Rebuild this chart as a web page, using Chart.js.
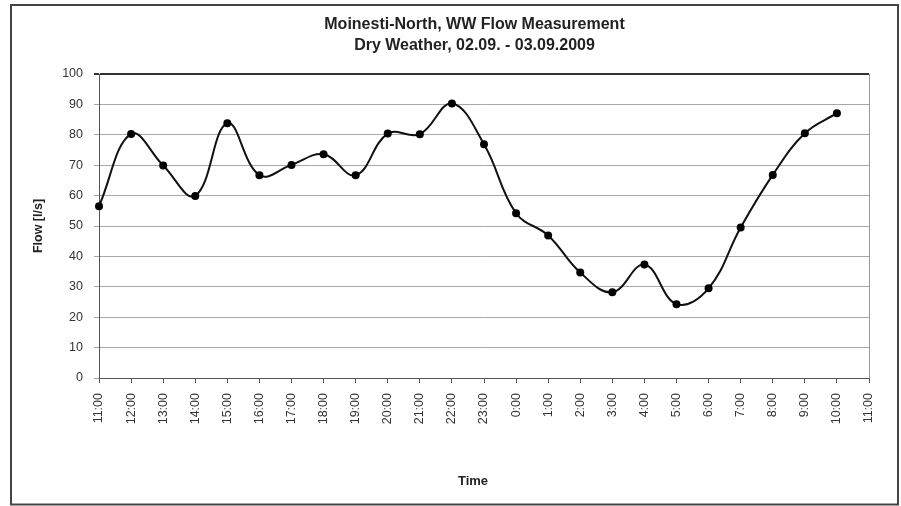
<!DOCTYPE html>
<html>
<head>
<meta charset="utf-8">
<script src="https://cdn.jsdelivr.net/npm/chart.js@4/dist/chart.umd.min.js"></script>
<style>
  html, body { margin: 0; padding: 0; background: #fff; }
  canvas { display: block; }
</style>
</head>
<body>
<canvas id="c" width="901" height="506"></canvas>
<script>
const titleLines = ['Moinesti-North, WW Flow Measurement', 'Dry Weather, 02.09. - 03.09.2009'];
const xAxisTitle = 'Time';
const yAxisTitle = 'Flow [l/s]';
const timeLabels = ['11:00','12:00','13:00','14:00','15:00','16:00','17:00','18:00','19:00','20:00','21:00','22:00','23:00',
                    '0:00','1:00','2:00','3:00','4:00','5:00','6:00','7:00','8:00','9:00','10:00','11:00'];
const flowValues = [56.5, 80.3, 69.9, 59.9, 83.8, 66.7, 70.1, 73.6, 66.7, 80.4, 80.2, 90.3,
                    76.9, 54.2, 46.9, 34.7, 28.2, 37.3, 24.3, 29.5, 49.5, 66.8, 80.5, 87.1];
const yMin = 0, yMax = 100, yStep = 10;

const FONT = "'Liberation Sans', Arial, sans-serif";

const framePlugin = {
  id: 'frame',
  beforeDraw(chart) {
    const ctx = chart.ctx;
    ctx.save();
    ctx.fillStyle = '#fff';
    ctx.fillRect(0, 0, chart.width, chart.height);
    ctx.strokeStyle = '#444';
    ctx.lineWidth = 2;
    ctx.strokeRect(11, 5, 887, 499.5);
    ctx.restore();
  },
  beforeDatasetsDraw(chart) {
    const a = chart.chartArea, ctx = chart.ctx;
    ctx.save();
    ctx.strokeStyle = '#999';
    ctx.lineWidth = 1;
    ctx.beginPath();
    ctx.moveTo(a.right + 0.5, a.top);
    ctx.lineTo(a.right + 0.5, a.bottom);
    ctx.stroke();
    ctx.restore();
  },
  afterLayout(chart) {
    chart.boxes.forEach(b => {
      if (!b.options || b.options.text === undefined) return;
      const t = b.options.text;
      if (Array.isArray(t)) { b.left = 48; b.right = 901; }
      else if (t === xAxisTitle) { b.left = 45; b.right = 901; }
    });
  }
};

new Chart(document.getElementById('c'), {
  type: 'line',
  data: {
    labels: timeLabels,
    datasets: [{
      data: flowValues,
      borderColor: '#111',
      borderWidth: 2,
      backgroundColor: '#000',
      pointBackgroundColor: '#000',
      pointBorderColor: '#000',
      pointRadius: 4,
      pointBorderWidth: 0,
      tension: 0.4,
      fill: false
    }]
  },
  options: {
    responsive: false,
    animation: false,
    devicePixelRatio: 1,
    layout: { padding: { left: 0, right: 32, top: 0, bottom: 0 } },
    plugins: {
      legend: { display: false },
      tooltip: { enabled: false },
      title: {
        display: true,
        text: titleLines,
        color: '#222',
        font: { family: FONT, size: 16, weight: 'bold', lineHeight: 1.3125 },
        padding: { top: 14.5, bottom: 17.5 }
      },
      subtitle: {
        display: true,
        position: 'bottom',
        text: xAxisTitle,
        color: '#222',
        font: { family: FONT, size: 13, weight: 'bold', lineHeight: 1.2 },
        padding: { top: 0, bottom: 17.2 }
      }
    },
    scales: {
      x: {
        type: 'category',
        offset: false,
        afterFit(s) { s.height = 95.2; },
        grid: { display: true, drawOnChartArea: false, drawTicks: true, tickLength: 5, color: '#555' },
        border: { display: true, color: '#555', width: 1 },
        ticks: {
          autoSkip: false, maxRotation: 90, minRotation: 90, padding: 10,
          color: '#333', font: { family: FONT, size: 12.5 }
        }
      },
      y: {
        min: yMin, max: yMax,
        afterFit(s) { s.width = 99; },
        grid: {
          color: c => (c.tick && c.tick.value === yMax) ? '#333' : '#a8a8a8',
          lineWidth: c => (c.tick && c.tick.value === yMax) ? 2 : 1,
          tickLength: 5
        },
        border: { display: true, color: '#555', width: 1 },
        ticks: { stepSize: yStep, padding: 11, color: '#333', font: { family: FONT, size: 12.5 } },
        title: {
          display: true, text: yAxisTitle, color: '#222',
          font: { family: FONT, size: 12.5, weight: 'bold', lineHeight: 1.2 },
          padding: { top: 31.5, bottom: 0 }
        }
      }
    }
  },
  plugins: [framePlugin]
});
</script>
</body>
</html>
